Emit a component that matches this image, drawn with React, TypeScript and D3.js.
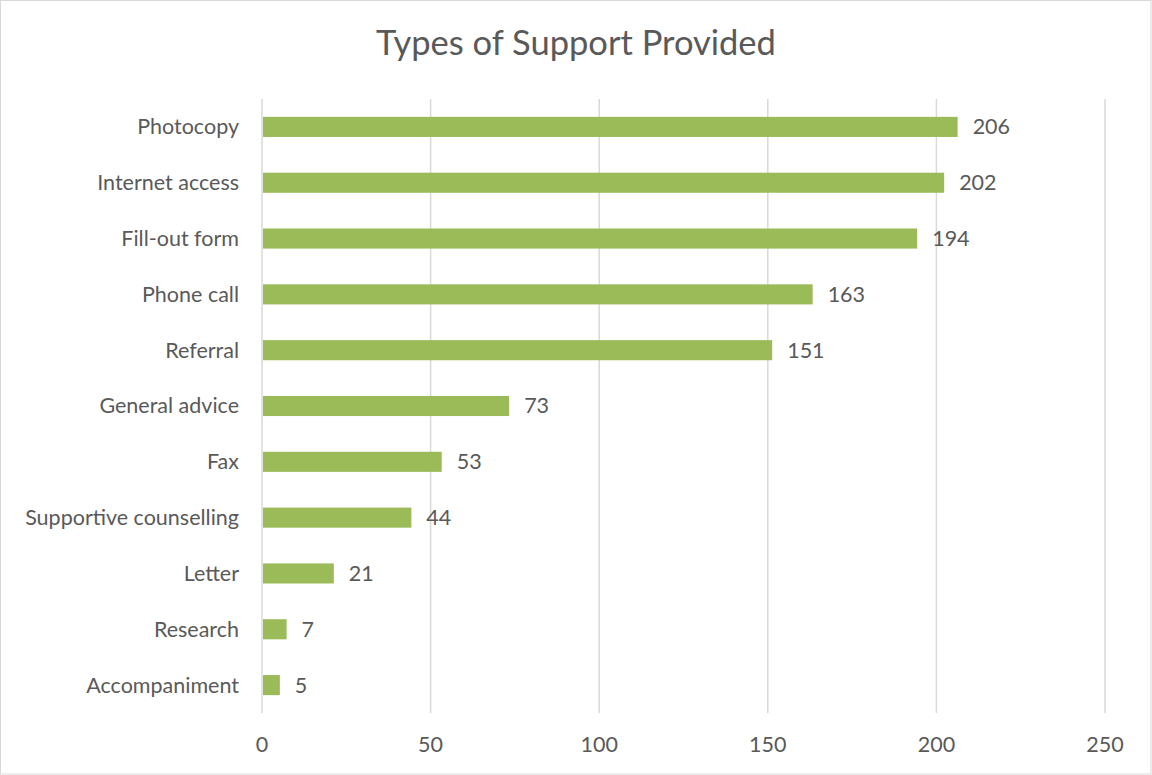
import React from "react";
import * as d3 from "d3";

const categories = [
  "Photocopy",
  "Internet access",
  "Fill-out form",
  "Phone call",
  "Referral",
  "General advice",
  "Fax",
  "Supportive counselling",
  "Letter",
  "Research",
  "Accompaniment",
];
const values = [206, 202, 194, 163, 151, 73, 53, 44, 21, 7, 5];
const xTicks = [0, 50, 100, 150, 200, 250];
const title = "Types of Support Provided";

const W = 1152;
const H = 775;
const left = 262;
const right = 1105;
const top = 99;
const bottom = 713;
const FONT = "Lato, 'Open Sans', sans-serif";
const TXT = "#595959";
const FS = 21.5;

export default function App() {
  const x = d3.scaleLinear().domain([0, 250]).range([left, right]);
  const y = d3.scaleBand<string>().domain(categories).range([top, bottom]).paddingInner(0.64).paddingOuter(0.32);
  return (
    <svg width={W} height={H} style={{ position: "absolute", left: 0, top: 0, background: "#fff" }}>
      <rect x={0.5} y={0.5} width={W - 1.5} height={H - 1.5} fill="#fff" stroke="#d9d9d9" />
      <text x={W / 2} y={46} textAnchor="middle" dominantBaseline="middle" fontFamily={FONT} fontSize={34.5} fill={TXT}>
        {title}
      </text>
      {xTicks.map((t) => (
        <g key={t}>
          <line x1={x(t)} x2={x(t)} y1={top} y2={bottom} stroke="#d9d9d9" strokeWidth={1.5} />
          <text x={x(t)} y={747} textAnchor="middle" dominantBaseline="middle" fontFamily={FONT} fontSize={FS} fill={TXT}>
            {t}
          </text>
        </g>
      ))}
      {categories.map((c, i) => (
        <g key={c}>
          <rect x={x(0) + 1} y={y(c)} width={x(values[i]) - x(0)} height={y.bandwidth()} fill="#9BBB59" />
          <text x={239} y={(y(c) ?? 0) + y.bandwidth() / 2 + 2} textAnchor="end" dominantBaseline="middle" fontFamily={FONT} fontSize={FS} fill={TXT}>
            {c}
          </text>
          <text x={x(values[i]) + 16} y={(y(c) ?? 0) + y.bandwidth() / 2 + 2} dominantBaseline="middle" fontFamily={FONT} fontSize={FS} fill={TXT}>
            {values[i]}
          </text>
        </g>
      ))}
    </svg>
  );
}
